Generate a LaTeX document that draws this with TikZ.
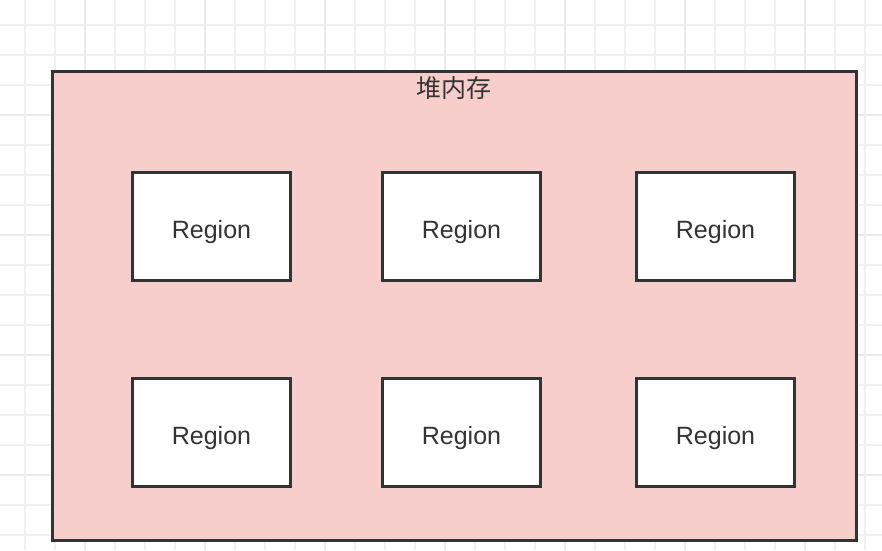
\documentclass[tikz,border=0pt]{standalone}
\usepackage{fontspec}
\setmainfont{Liberation Sans}
\newfontfamily\cjk{Noto Sans CJK SC}
\definecolor{gridc}{HTML}{F0F0F0}
\definecolor{gridm}{HTML}{EAEAEA}
\definecolor{heapfill}{HTML}{F8CECC}
\definecolor{ink}{HTML}{333333}
\newcommand{\regtext}{\raisebox{-11.8pt}[0pt][0pt]{Region}}
\begin{document}
\begin{tikzpicture}[x=1pt,y=-1pt,
  regionbox/.style={draw=ink,line width=3pt,fill=white,minimum width=158pt,minimum height=108pt,inner sep=0pt,text=ink,font=\fontsize{25}{27}\selectfont},
  heap/.style={draw=ink,line width=3pt,fill=heapfill,inner sep=0pt}]
\useasboundingbox (0,0) rectangle (882,550);
\fill[white] (0,0) rectangle (882,550);
\foreach \i in {0,...,28} {\draw[gridc,line width=1.2pt] (25+30*\i,0) -- (25+30*\i,550);}
\foreach \i in {0,...,17} {\draw[gridc,line width=1.2pt] (0,25+30*\i) -- (882,25+30*\i);}
\foreach \i in {0,...,7} {\draw[gridm,line width=1.6pt] (85+120*\i,0) -- (85+120*\i,550);}
\foreach \i in {0,...,4} {\draw[gridm,line width=1.6pt] (0,115+120*\i) -- (882,115+120*\i);}
\node[heap,minimum width=804pt,minimum height=469pt] (heapbox) at (454,305.5) {};
\node[text=ink,font=\cjk\fontsize{25}{27}\selectfont,anchor=center] (heaplabel) at (454,88) {堆内存};
\node[regionbox] (r1) at (211.5,226.5) {\regtext};
\node[regionbox] (r2) at (461.5,226.5) {\regtext};
\node[regionbox] (r3) at (715.5,226.5) {\regtext};
\node[regionbox] (r4) at (211.5,432.5) {\regtext};
\node[regionbox] (r5) at (461.5,432.5) {\regtext};
\node[regionbox] (r6) at (715.5,432.5) {\regtext};
\end{tikzpicture}
\end{document}
